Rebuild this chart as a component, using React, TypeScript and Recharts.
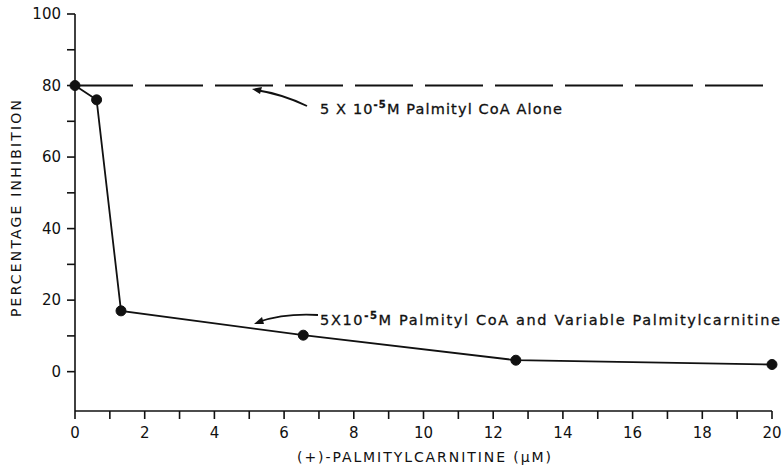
import React from 'react';
import { LineChart, Line, XAxis, YAxis } from 'recharts';

// readings
const concentrations = [0, 0.62, 1.32, 6.55, 12.65, 20];
const inhibition = [80, 76, 17, 10.2, 3.2, 2];
const aloneX = [0, 20];
const aloneY = [80, 80];
const xTicks = [0, 1, 2, 3, 4, 5, 6, 7, 8, 9, 10, 11, 12, 13, 14, 15, 16, 17, 18, 19, 20];
const yTicks = [0, 10, 20, 30, 40, 50, 60, 70, 80, 90, 100];

const mixData = concentrations.map((x, i) => ({ x, y: inhibition[i] }));
const aloneData = aloneX.map((x, i) => ({ x, y: aloneY[i] }));

const FONT = '"DejaVu Sans", sans-serif';

const Sup = ({ children }: { children: string }) => (
  <tspan dy={-6} fontSize={10} fontWeight="bold">{children}</tspan>
);

export default function App() {
  return (
    <div style={{ position: 'absolute', left: 0, top: 0, width: 784, height: 471, background: '#fff' }}>
      <LineChart
        width={784}
        height={471}
        margin={{ top: 14, right: 12, left: 0, bottom: 0 }}
      >
        <XAxis
          dataKey="x"
          type="number"
          domain={[0, 20]}
          ticks={xTicks}
          interval={0}
          tickSize={8}
          tickMargin={8}
          height={60}
          tickFormatter={(v: number) => (v % 2 === 0 ? String(v) : '')}
          tick={{ fill: '#111', fontSize: 15, fontFamily: FONT }}
          axisLine={{ stroke: '#111', strokeWidth: 1.6 }}
          tickLine={{ stroke: '#111', strokeWidth: 1.6 }}
        />
        <YAxis
          dataKey="y"
          type="number"
          domain={[-11, 100]}
          ticks={yTicks}
          interval={0}
          tickSize={8}
          tickMargin={6}
          width={75}
          tickFormatter={(v: number) => (v % 20 === 0 ? String(v) : '')}
          tick={{ fill: '#111', fontSize: 15, fontFamily: FONT }}
          axisLine={{ stroke: '#111', strokeWidth: 1.6 }}
          tickLine={{ stroke: '#111', strokeWidth: 1.6 }}
        />
        <Line
          data={aloneData}
          dataKey="y"
          stroke="#111"
          strokeWidth={2}
          strokeDasharray="58 12"
          dot={false}
          isAnimationActive={false}
        />
        <Line
          data={mixData}
          dataKey="y"
          type="linear"
          stroke="#111"
          strokeWidth={1.8}
          dot={{ r: 5, fill: '#111', stroke: '#111', strokeWidth: 1 }}
          isAnimationActive={false}
        />
      </LineChart>
      <svg
        width={784}
        height={471}
        style={{ position: 'absolute', left: 0, top: 0, pointerEvents: 'none' }}
      >
        {/* axis titles */}
        <text
          transform="translate(21 208.5) rotate(-90)"
          textAnchor="middle"
          fontSize={14}
          fontFamily={FONT}
          fill="#111"
          textLength={217}
          lengthAdjust="spacing"
        >
          PERCENTAGE INHIBITION
        </text>
        <text
          x={424}
          y={462}
          textAnchor="middle"
          fontSize={14}
          fontFamily={FONT}
          fill="#111"
          textLength={254}
          lengthAdjust="spacing"
        >
          {'(+)-PALMITYLCARNITINE (\u00B5M)'}
        </text>
        {/* annotations */}
        <path d="M 307 106 Q 282 94 256 90" fill="none" stroke="#111" strokeWidth={1.8} />
        <path d="M 252 89 L 262 87 L 260 94 Z" fill="#111" />
        <text
          x={320}
          y={114}
          fontSize={14.5}
          fontFamily={FONT}
          fill="#111"
          stroke="#111"
          strokeWidth={0.3}
          textLength={242}
          lengthAdjust="spacing"
        >
          5 X 10<Sup>-5</Sup>
          <tspan dy={6}>M Palmityl CoA Alone</tspan>
        </text>
        <path d="M 318 315 Q 285 313 258 322" fill="none" stroke="#111" strokeWidth={1.8} />
        <path d="M 254 324 L 262 317 L 264 324 Z" fill="#111" />
        <text
          x={320}
          y={325}
          fontSize={14.5}
          fontFamily={FONT}
          fill="#111"
          stroke="#111"
          strokeWidth={0.3}
          textLength={460}
          lengthAdjust="spacing"
        >
          5X10<Sup>-5</Sup>
          <tspan dy={6}>M Palmityl CoA and Variable Palmitylcarnitine</tspan>
        </text>
      </svg>
    </div>
  );
}
